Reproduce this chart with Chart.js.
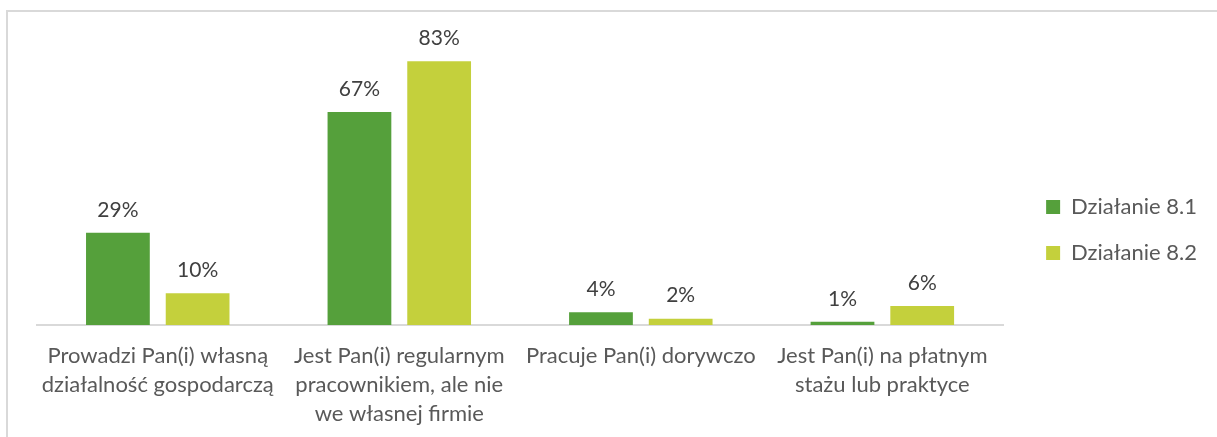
<!DOCTYPE html>
<html>
<head>
<meta charset="utf-8">
<script src="https://cdn.jsdelivr.net/npm/chart.js@4"></script>
<style>
  html, body { margin: 0; padding: 0; background: #ffffff; }
  body { width: 1217px; height: 437px; position: relative; overflow: hidden; }
  #ramka {
    position: absolute; left: 6px; top: 10px; width: 1230px; height: 440px;
    border-left: 2px solid #d9d9d9; border-top: 2px solid #d9d9d9;
  }
  #wykres { position: absolute; left: 0; top: 0; }
</style>
</head>
<body>
<div id="ramka"></div>
<canvas id="wykres" width="1217" height="437"></canvas>
<script>
const kategorie = [
    ["Prowadzi Pan(i) własną", "działalność gospodarczą"],
    ["Jest Pan(i) regularnym", "pracownikiem, ale nie", "we własnej firmie"],
    ["Pracuje Pan(i) dorywczo"],
    ["Jest Pan(i) na płatnym", "stażu lub praktyce"]
];
const dzialanie81 = [29, 67, 4, 1];
const dzialanie82 = [10, 83, 2, 6];
const nazwySerii = ["Działanie 8.1", "Działanie 8.2"];

const FONT = "Lato, 'Open Sans', sans-serif";

// etykiety z wartościami nad słupkami
const etykietyPlugin = {
    id: "etykiety",
    afterDatasetsDraw(chart) {
        const ctx = chart.ctx;
        ctx.save();
        ctx.font = "21px " + FONT;
        ctx.fillStyle = "#404040";
        ctx.textAlign = "center";
        ctx.textBaseline = "middle";
        chart.data.datasets.forEach((ds, i) => {
            chart.getDatasetMeta(i).data.forEach((bar, j) => {
                ctx.fillText(ds.data[j] + "%", bar.x, bar.y - 23);
            });
        });
        ctx.restore();
    }
};

new Chart(document.getElementById("wykres"), {
    type: "bar",
    data: {
        labels: kategorie,
        datasets: [{
            label: nazwySerii[0],
            data: dzialanie81,
            backgroundColor: "#55a03b"
        }, {
            label: nazwySerii[1],
            data: dzialanie82,
            backgroundColor: "#c4d03c"
        }]
    },
    options: {
        responsive: false,
        animation: false,
        categoryPercentage: 0.66,
        barPercentage: 0.8,
        layout: { padding: { left: 37, top: 23, right: 10, bottom: 0 } },
        plugins: {
            legend: {
                position: "right",
                labels: {
                    boxWidth: 14,
                    boxHeight: 14,
                    padding: 24,
                    color: "#595959",
                    font: { family: FONT, size: 22 }
                }
            },
            tooltip: { enabled: false }
        },
        scales: {
            x: {
                grid: { display: false, drawTicks: false },
                border: { color: "#d9d9d9", width: 2 },
                afterFit: s => { s.height = 112; },
                ticks: {
                    maxRotation: 0,
                    autoSkip: false,
                    padding: 16,
                    color: "#595959",
                    font: { family: FONT, size: 22, lineHeight: 1.32 }
                }
            },
            y: {
                position: "right",
                min: 0,
                max: 95,
                grid: { display: false, drawTicks: false },
                border: { display: false },
                ticks: { display: false },
                afterFit: s => { s.width = 19; }
            }
        }
    },
    plugins: [etykietyPlugin]
});
</script>
</body>
</html>
